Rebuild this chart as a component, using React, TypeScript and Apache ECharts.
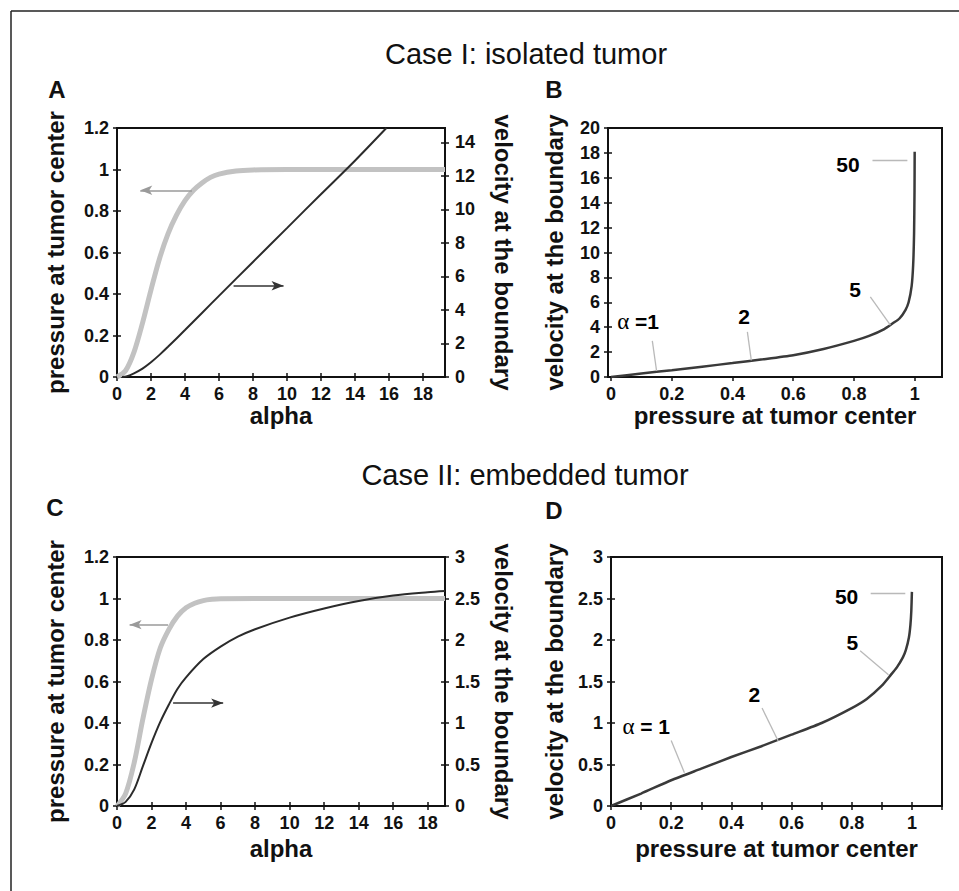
import React, { useEffect, useRef } from 'react';
import * as echarts from 'echarts';

const FONT = '"Liberation Sans", Arial, Helvetica, sans-serif';

// ---------- Titles ----------
const caseTitles = ['Case I: isolated tumor', 'Case II: embedded tumor'];
const panelLetters = ['A', 'B', 'C', 'D'];
const nameAlpha = 'alpha';
const namePressure = 'pressure at tumor center';
const nameVelocity = 'velocity at the boundary';

// ---------- Tick values ----------
const alphaTicks = [0, 2, 4, 6, 8, 10, 12, 14, 16, 18];
const pressureTicks = [0, 0.2, 0.4, 0.6, 0.8, 1, 1.2];
const velocityTicksA = [0, 2, 4, 6, 8, 10, 12, 14];
const velocityTicksB = [0, 2, 4, 6, 8, 10, 12, 14, 16, 18, 20];
const velocityTicksCD = [0, 0.5, 1, 1.5, 2, 2.5, 3];
const pressureXLabels = [0, 0.2, 0.4, 0.6, 0.8, 1];
const pressureXTicksD = [0, 0.1, 0.2, 0.3, 0.4, 0.5, 0.6, 0.7, 0.8, 0.9, 1, 1.1];

// ---------- Panel A (isolated) ----------
const aPressureAlpha = [0, 0.5, 1, 1.5, 2, 2.5, 3, 3.5, 4, 4.5, 5, 5.5, 6, 7, 8, 10, 19.3];
const aPressure = [0, 0.03, 0.12, 0.26, 0.42, 0.57, 0.69, 0.78, 0.85, 0.9, 0.935, 0.962, 0.978, 0.993, 0.998, 1, 1];
const aVelocityAlpha = [0.3, 0.6, 1, 1.5, 2, 2.5, 3, 4, 5, 6, 8, 10, 12, 14, 15.85];
const aVelocity = [0, 0.05, 0.22, 0.5, 0.88, 1.32, 1.8, 2.8, 3.82, 4.84, 6.86, 8.88, 10.9, 12.9, 14.85];
const aArrowPressure = [[4.41, 0.9], [1.37, 0.9]];
const aArrowVelocity = [[6.86, 5.44], [9.8, 5.44]];

// ---------- Panel B (isolated) ----------
const bPressure = [0, 0.1, 0.2, 0.3, 0.4, 0.5, 0.6, 0.7, 0.8, 0.85, 0.9, 0.93, 0.95, 0.97, 0.98, 0.99, 0.995, 0.998, 0.9995, 1.0];
const bVelocity = [0, 0.28, 0.55, 0.83, 1.12, 1.42, 1.75, 2.25, 2.9, 3.3, 3.85, 4.35, 4.7, 5.4, 6.0, 7.3, 9.0, 11.5, 15, 18.1];
const bLabelText = ['α =1', '2', '5', '50'];
const bLabelPos = [[0.089, 4.43], [0.438, 4.83], [0.804, 7.03], [0.78, 17.1]];
const bLeaders = [
  [[0.136, 2.9], [0.15, 0.48]],
  [[0.449, 3.62], [0.462, 1.34]],
  [[0.854, 6.44], [0.92, 4.16]],
  [[0.861, 17.4], [0.976, 17.4]],
];

// ---------- Panel C (embedded) ----------
const cPressureAlpha = [0, 0.5, 1, 1.5, 2, 2.5, 3, 3.5, 4, 4.5, 5, 5.5, 6, 8, 19];
const cPressure = [0, 0.06, 0.21, 0.42, 0.61, 0.76, 0.85, 0.915, 0.955, 0.977, 0.99, 0.996, 0.999, 1, 1];
const cVelocityAlpha = [0, 0.5, 1, 1.5, 2, 2.5, 3, 3.5, 4, 5, 6, 7, 8, 10, 12, 14, 16, 18, 19];
const cVelocity = [0, 0.05, 0.2, 0.48, 0.76, 1.01, 1.22, 1.41, 1.55, 1.77, 1.92, 2.04, 2.13, 2.27, 2.38, 2.47, 2.535, 2.575, 2.59];
const cArrowPressure = [[2.96, 0.874], [0.73, 0.874]];
const cArrowVelocity = [[3.25, 1.24], [6.15, 1.24]];

// ---------- Panel D (embedded) ----------
const dPressure = [0, 0.1, 0.2, 0.3, 0.4, 0.5, 0.6, 0.7, 0.8, 0.85, 0.9, 0.93, 0.95, 0.97, 0.98, 0.99, 0.995, 0.998, 1.0];
const dVelocity = [0, 0.15, 0.31, 0.45, 0.59, 0.72, 0.86, 1.0, 1.18, 1.29, 1.45, 1.58, 1.67, 1.79, 1.88, 2.03, 2.18, 2.35, 2.58];
const dLabelText = ['α = 1', '2', '5', '50'];
const dLabelPos = [[0.117, 0.96], [0.476, 1.34], [0.802, 1.97], [0.783, 2.53]];
const dLeaders = [
  [[0.2, 0.79], [0.244, 0.4]],
  [[0.502, 1.18], [0.556, 0.78]],
  [[0.828, 1.87], [0.922, 1.58]],
  [[0.863, 2.56], [0.978, 2.56]],
];

const zip = (xs: number[], ys: number[]) => xs.map((x, i) => [x, ys[i]]);

const AXIS_COLOR = '#111';

function mainAxis(o: any) {
  return {
    type: 'value',
    gridIndex: o.grid,
    min: o.min,
    max: o.max,
    position: o.position,
    name: o.name,
    nameLocation: 'middle',
    nameGap: o.nameGap,
    nameRotate: o.nameRotate,
    nameTextStyle: { fontFamily: FONT, fontWeight: 'bold', fontSize: 24, color: AXIS_COLOR },
    axisLine: { show: true, onZero: false, lineStyle: { color: AXIS_COLOR, width: 2 } },
    axisTick: { show: true, inside: false, length: 4, customValues: o.ticks, lineStyle: { color: AXIS_COLOR, width: 1.5 } },
    axisLabel: {
      show: true,
      customValues: o.labels || o.ticks,
      margin: o.margin,
      fontFamily: FONT,
      fontWeight: 'bold',
      fontSize: 18,
      color: AXIS_COLOR,
    },
    splitLine: { show: false },
  };
}

function ghostAxis(o: any) {
  return {
    type: 'value',
    gridIndex: o.grid,
    min: o.min,
    max: o.max,
    position: o.position,
    axisLine: { show: false, onZero: false },
    axisTick: { show: true, inside: true, length: 4, customValues: o.ticks, lineStyle: { color: AXIS_COLOR, width: 1.5 } },
    axisLabel: { show: false },
    splitLine: { show: false },
  };
}

function arrowMark(pts: number[][], color: string) {
  return {
    silent: true,
    animation: false,
    symbol: ['none', 'arrow'],
    symbolSize: [7, 12],
    label: { show: false },
    emphasis: { disabled: true },
    lineStyle: { color, width: 1.6, type: 'solid' },
    data: [[{ coord: pts[0], symbol: 'none' }, { coord: pts[1], symbol: 'arrow' }]],
  };
}

function leaderMark(leaders: number[][][]) {
  return {
    silent: true,
    animation: false,
    symbol: ['none', 'none'],
    label: { show: false },
    emphasis: { disabled: true },
    lineStyle: { color: '#b9b9b9', width: 1.3, type: 'solid', opacity: 1 },
    data: leaders.map((l) => [{ coord: l[0] }, { coord: l[1] }]),
  };
}

function labelSeries(xi: number, yi: number, texts: string[], pos: number[][], leaders: number[][][]) {
  return {
    type: 'scatter',
    xAxisIndex: xi,
    yAxisIndex: yi,
    symbolSize: 0,
    silent: true,
    itemStyle: { opacity: 1 },
    data: texts.map((t, i) => ({ name: t, value: pos[i] })),
    label: {
      show: true,
      position: 'inside',
      formatter: (p: any) => String(p.name).replace('α', '{g|α}'),
      fontFamily: FONT,
      fontWeight: 'bold',
      fontSize: 21,
      color: '#000',
      opacity: 1,
      rich: {
        g: { fontFamily: '"Liberation Serif", "DejaVu Serif", serif', fontWeight: 'normal', fontSize: 23, color: '#000' },
      },
    },
    markLine: leaderMark(leaders),
  };
}

const GRAY = '#c2c2c2';
const DARK = '#2b2b2b';

function buildOption() {
  const grids = [
    { left: 117, top: 128, width: 328, height: 249 },
    { left: 608, top: 128, width: 334, height: 249 },
    { left: 117, top: 557, width: 328, height: 249 },
    { left: 611, top: 557, width: 331, height: 249 },
  ].map((g) => ({ ...g, show: true, borderColor: AXIS_COLOR, borderWidth: 2, backgroundColor: 'transparent' }));

  const xAxis = [
    mainAxis({ grid: 0, min: 0, max: 19.3, position: 'bottom', ticks: alphaTicks, name: nameAlpha, nameGap: 24, margin: 8 }),
    mainAxis({ grid: 1, min: -0.01, max: 1.09, position: 'bottom', ticks: pressureXLabels, name: namePressure, nameGap: 24, margin: 8 }),
    mainAxis({ grid: 2, min: 0, max: 19, position: 'bottom', ticks: alphaTicks, name: nameAlpha, nameGap: 30, margin: 8 }),
    mainAxis({ grid: 3, min: 0, max: 1.1, position: 'bottom', ticks: pressureXTicksD, labels: pressureXLabels, name: namePressure, nameGap: 30, margin: 8 }),
    ghostAxis({ grid: 0, min: 0, max: 19.3, position: 'bottom', ticks: alphaTicks }),
    ghostAxis({ grid: 2, min: 0, max: 19, position: 'bottom', ticks: alphaTicks }),
    ghostAxis({ grid: 3, min: 0, max: 1.1, position: 'bottom', ticks: pressureXTicksD }),
  ];

  const yAxis = [
    mainAxis({ grid: 0, min: 0, max: 1.2, position: 'left', ticks: pressureTicks, name: namePressure, nameGap: 50, margin: 8 }),
    mainAxis({ grid: 0, min: 0, max: 14.85, position: 'right', ticks: velocityTicksA, name: nameVelocity, nameGap: 46, nameRotate: -90, margin: 10 }),
    mainAxis({ grid: 1, min: 0, max: 20, position: 'left', ticks: velocityTicksB, name: nameVelocity, nameGap: 42, margin: 8 }),
    mainAxis({ grid: 2, min: 0, max: 1.2, position: 'left', ticks: pressureTicks, name: namePressure, nameGap: 50, margin: 8 }),
    mainAxis({ grid: 2, min: 0, max: 3, position: 'right', ticks: velocityTicksCD, name: nameVelocity, nameGap: 46, nameRotate: -90, margin: 10 }),
    mainAxis({ grid: 3, min: 0, max: 3, position: 'left', ticks: velocityTicksCD, name: nameVelocity, nameGap: 45, margin: 8 }),
    ghostAxis({ grid: 0, min: 0, max: 1.2, position: 'left', ticks: pressureTicks }),
    ghostAxis({ grid: 0, min: 0, max: 14.85, position: 'right', ticks: velocityTicksA }),
    ghostAxis({ grid: 1, min: 0, max: 20, position: 'left', ticks: velocityTicksB }),
    ghostAxis({ grid: 2, min: 0, max: 1.2, position: 'left', ticks: pressureTicks }),
    ghostAxis({ grid: 2, min: 0, max: 3, position: 'right', ticks: velocityTicksCD }),
    ghostAxis({ grid: 3, min: 0, max: 3, position: 'left', ticks: velocityTicksCD }),
  ];

  const lineBase = {
    type: 'line',
    showSymbol: false,
    symbol: 'none',
    smooth: 0.3,
    silent: true,
  };

  const series: any[] = [
    // A
    { ...lineBase, xAxisIndex: 0, yAxisIndex: 0, z: 2, data: zip(aPressureAlpha, aPressure), lineStyle: { color: GRAY, width: 5 }, markLine: arrowMark(aArrowPressure, '#9a9a9a') },
    { ...lineBase, xAxisIndex: 0, yAxisIndex: 1, z: 3, data: zip(aVelocityAlpha, aVelocity), lineStyle: { color: DARK, width: 2 }, markLine: arrowMark(aArrowVelocity, '#333') },
    // B
    { ...lineBase, smooth: 0.2, xAxisIndex: 1, yAxisIndex: 2, z: 3, data: zip(bPressure, bVelocity), lineStyle: { color: '#3a3a3a', width: 2.5 } },
    labelSeries(1, 2, bLabelText, bLabelPos, bLeaders),
    // C
    { ...lineBase, xAxisIndex: 2, yAxisIndex: 3, z: 2, data: zip(cPressureAlpha, cPressure), lineStyle: { color: GRAY, width: 5 }, markLine: arrowMark(cArrowPressure, '#9a9a9a') },
    { ...lineBase, xAxisIndex: 2, yAxisIndex: 4, z: 3, data: zip(cVelocityAlpha, cVelocity), lineStyle: { color: DARK, width: 2 }, markLine: arrowMark(cArrowVelocity, '#333') },
    // D
    { ...lineBase, smooth: 0.2, xAxisIndex: 3, yAxisIndex: 5, z: 3, data: zip(dPressure, dVelocity), lineStyle: { color: '#3a3a3a', width: 2.5 } },
    labelSeries(3, 5, dLabelText, dLabelPos, dLeaders),
  ];

  const letterPos = [[57, 89.5], [554, 89], [55, 507.5], [554, 510]];
  const titlePos = [[526, 54], [525, 475]];

  const graphic: any[] = [
    { type: 'line', silent: true, shape: { x1: 11, y1: 11, x2: 11, y2: 891 }, style: { stroke: '#222', lineWidth: 1.5 } },
    { type: 'line', silent: true, shape: { x1: 11, y1: 11, x2: 959, y2: 11 }, style: { stroke: '#222', lineWidth: 1.5 } },
    ...caseTitles.map((t, i) => ({
      type: 'text',
      silent: true,
      x: titlePos[i][0],
      y: titlePos[i][1],
      style: { text: t, fontFamily: FONT, fontSize: 29, fontWeight: 'normal', fill: '#111', align: 'center', verticalAlign: 'middle' },
    })),
    ...panelLetters.map((t, i) => ({
      type: 'text',
      silent: true,
      x: letterPos[i][0],
      y: letterPos[i][1],
      style: { text: t, fontFamily: FONT, fontSize: 24, fontWeight: 'bold', fill: '#111', align: 'center', verticalAlign: 'middle' },
    })),
  ];

  return {
    animation: false,
    backgroundColor: '#ffffff',
    grid: grids,
    xAxis,
    yAxis,
    series,
    graphic,
  };
}

export default function App() {
  const ref = useRef<HTMLDivElement>(null);
  useEffect(() => {
    if (!ref.current) return;
    const chart = echarts.init(ref.current, undefined, { renderer: 'svg' });
    chart.setOption(buildOption() as any);
    return () => chart.dispose();
  }, []);
  return (
    <div
      ref={ref}
      style={{ position: 'fixed', left: 0, top: 0, width: 959, height: 891, background: '#fff' }}
    />
  );
}
